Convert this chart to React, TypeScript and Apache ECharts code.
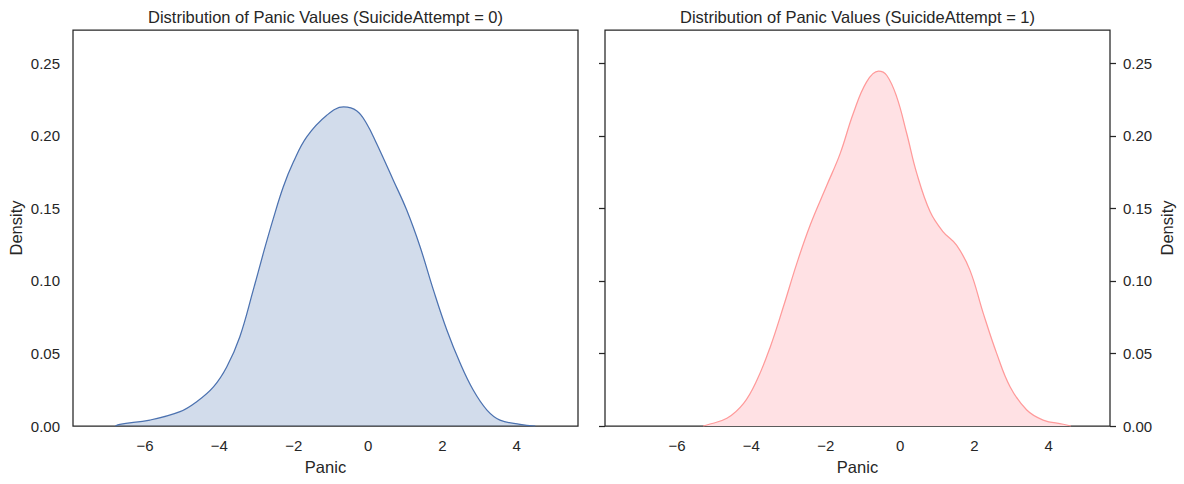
import React, { useEffect, useRef } from "react";
import * as echarts from "echarts";

// KDE curve of Panic values, SuicideAttempt = 0
const panic0X = [-6.8, -6.68, -5.87, -5.06, -4.61, -4.16, -3.8, -3.45, -3.09, -2.82, -2.55, -2.28, -2.01, -1.65, -1.11, -0.66, -0.3, -0.04, 0.23, 0.68, 1.04, 1.4, 1.76, 2.12, 2.48, 2.83, 3.2, 3.55, 4.09, 4.5];
const panic0Y = [0, 0.0012, 0.0041, 0.0099, 0.0168, 0.027, 0.0409, 0.0616, 0.0937, 0.119, 0.143, 0.165, 0.182, 0.1994, 0.2143, 0.22, 0.2173, 0.2086, 0.1948, 0.1695, 0.1489, 0.1236, 0.0937, 0.0662, 0.0432, 0.0248, 0.011, 0.0041, 0.0012, 0];

// KDE curve of Panic values, SuicideAttempt = 1
const panic1X = [-5.3, -5.2, -4.66, -4.21, -3.85, -3.49, -3.14, -2.78, -2.42, -1.97, -1.61, -1.26, -0.9, -0.58, -0.36, -0.09, 0.18, 0.45, 0.81, 1.16, 1.52, 1.88, 2.24, 2.6, 2.96, 3.41, 3.85, 4.39, 4.6];
const panic1Y = [0, 0.0007, 0.0053, 0.0156, 0.0317, 0.0547, 0.0822, 0.112, 0.1385, 0.166, 0.188, 0.2155, 0.2373, 0.2447, 0.2419, 0.227, 0.2017, 0.1742, 0.1477, 0.1339, 0.1247, 0.1075, 0.0777, 0.0501, 0.0271, 0.011, 0.0041, 0.0012, 0];

const xTicks = [-6, -4, -2, 0, 2, 4];
const yTicks = [0, 0.05, 0.1, 0.15, 0.2, 0.25];
const titles = [
  "Distribution of Panic Values (SuicideAttempt = 0)",
  "Distribution of Panic Values (SuicideAttempt = 1)",
];

const X_MIN = -7.94;
const X_MAX = 5.65;
const Y_MAX = 0.2731;
const TEXT = "#262626";
const FONT = "'Liberation Sans', Arial, sans-serif";

const fmtX = (v: number) => (v < 0 ? "\u2212" + Math.abs(v) : String(v));
const fmtY = (v: number) => v.toFixed(2);

export default function App() {
  const ref = useRef<HTMLDivElement>(null);
  useEffect(() => {
    if (!ref.current) return;
    const chart = echarts.init(ref.current, null, { renderer: "svg" });
    const xAxisBase = (gridIndex: number) => ({
      type: "value",
      gridIndex,
      min: X_MIN,
      max: X_MAX,
      axisLine: { show: false, onZero: false },
      axisTick: { show: false },
      splitLine: { show: false },
      axisLabel: {
        customValues: xTicks,
        formatter: fmtX,
        margin: 12,
        fontSize: 15,
        color: TEXT,
        fontFamily: FONT,
      },
      name: "Panic",
      nameLocation: "middle",
      nameGap: 32,
      nameTextStyle: { fontSize: 16.5, color: TEXT, fontFamily: FONT },
    });
    chart.setOption({
      animation: false,
      backgroundColor: "#ffffff",
      title: titles.map((t, i) => ({
        text: t,
        left: i === 0 ? 325.5 : 857.5,
        top: 8,
        padding: 0,
        textAlign: "center",
        textStyle: { fontSize: 16.5, fontWeight: "normal", color: TEXT, fontFamily: FONT },
      })),
      grid: [
        { left: 73, top: 30, width: 505, height: 396, show: true, borderColor: TEXT, borderWidth: 1.25, backgroundColor: "transparent" },
        { left: 605, top: 30, width: 505, height: 396, show: true, borderColor: TEXT, borderWidth: 1.25, backgroundColor: "transparent" },
      ],
      xAxis: [xAxisBase(0), xAxisBase(1)],
      yAxis: [
        {
          type: "value",
          gridIndex: 0,
          position: "left",
          min: 0,
          max: Y_MAX,
          axisLine: { show: false, onZero: false },
          axisTick: { show: false },
          splitLine: { show: false },
          axisLabel: { customValues: yTicks, formatter: fmtY, margin: 13, fontSize: 15, color: TEXT, fontFamily: FONT },
          name: "Density",
          nameLocation: "middle",
          nameGap: 49,
          nameTextStyle: { fontSize: 16.5, color: TEXT, fontFamily: FONT },
        },
        {
          type: "value",
          gridIndex: 1,
          position: "right",
          min: 0,
          max: Y_MAX,
          axisLine: { show: false, onZero: false },
          axisTick: { show: true, customValues: yTicks, length: 6, lineStyle: { color: TEXT, width: 1.25 } },
          splitLine: { show: false },
          axisLabel: { customValues: yTicks, formatter: fmtY, margin: 13, fontSize: 15, color: TEXT, fontFamily: FONT },
          name: "Density",
          nameLocation: "middle",
          nameGap: 48,
          nameTextStyle: { fontSize: 16.5, color: TEXT, fontFamily: FONT },
        },
        {
          type: "value",
          gridIndex: 1,
          position: "left",
          min: 0,
          max: Y_MAX,
          axisLine: { show: false, onZero: false },
          axisTick: { show: true, customValues: yTicks, length: 6, lineStyle: { color: TEXT, width: 1.25 } },
          splitLine: { show: false },
          axisLabel: { show: false },
        },
      ],
      series: [
        {
          type: "line",
          xAxisIndex: 0,
          yAxisIndex: 0,
          data: panic0X.map((x, i) => [x, panic0Y[i]]),
          smooth: 0.4,
          showSymbol: false,
          lineStyle: { color: "#4c72b0", width: 1.25 },
          areaStyle: { color: "#4c72b0", opacity: 0.25 },
          z: 1,
        },
        {
          type: "line",
          xAxisIndex: 1,
          yAxisIndex: 1,
          data: panic1X.map((x, i) => [x, panic1Y[i]]),
          smooth: 0.4,
          showSymbol: false,
          lineStyle: { color: "#ff9a9a", width: 1.25 },
          areaStyle: { color: "#ffe1e4", opacity: 1 },
          z: 1,
        },
      ],
    });
    return () => chart.dispose();
  }, []);
  return (
    <div
      ref={ref}
      style={{ position: "fixed", left: 0, top: 0, width: 1184, height: 484, background: "#fff" }}
    />
  );
}
